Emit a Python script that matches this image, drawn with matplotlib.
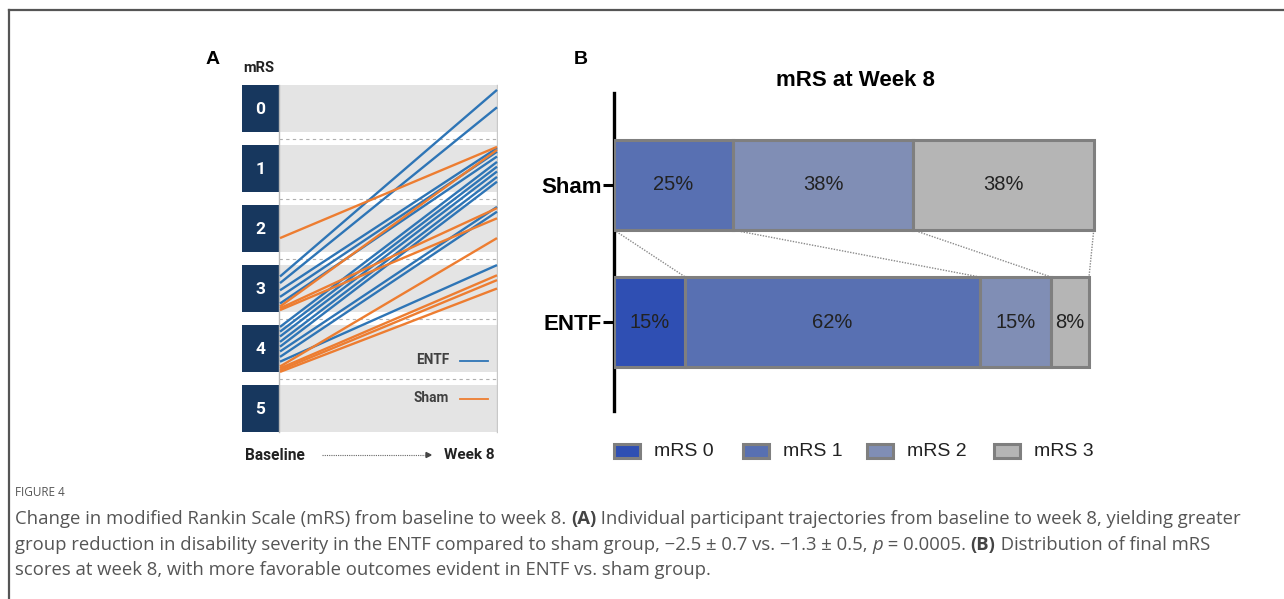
import matplotlib
matplotlib.use("Agg")
import matplotlib.pyplot as plt
from matplotlib.patches import Rectangle

# ---------------- data ----------------
mrs_levels = [0, 1, 2, 3, 4, 5]
entf_baseline = [2.80, 2.91, 3.03, 3.14, 3.25, 3.64, 3.72, 3.80, 3.89, 3.97, 4.05, 4.14, 4.22]
entf_week8 = [-0.31, -0.02, 0.66, 0.72, 0.80, 0.89, 0.97, 1.05, 1.14, 1.22, 1.64, 1.72, 2.61]
sham_baseline = [2.16, 3.30, 3.33, 3.36, 4.30, 4.33, 4.36, 4.39]
sham_week8 = [0.64, 0.69, 1.66, 1.83, 2.16, 2.78, 2.86, 3.00]

groups = ["ENTF", "Sham"]
categories = ["mRS 0", "mRS 1", "mRS 2", "mRS 3"]
sham_pct = [0, 25, 38, 38]
entf_pct = [15, 62, 15, 8]

# ---------------- figure ----------------
W, H = 1284, 599
fig = plt.figure(figsize=(W / 100, H / 100), dpi=100)
fig.patch.set_facecolor("white")


def px_axes(x0, y0, x1, y1):
    return fig.add_axes([x0 / W, 1 - y1 / H, (x1 - x0) / W, (y1 - y0) / H])


def fx(x):
    return x / W


def fy(y):
    return 1 - y / H


# frame lines
fig.add_artist(plt.Line2D([fx(9), fx(1284)], [fy(10), fy(10)], color="#555555", lw=1.6))
fig.add_artist(plt.Line2D([fx(9), fx(9)], [fy(10), fy(599)], color="#555555", lw=1.6))

# ---------------- panel A ----------------
BLUE = "#2e75b6"
ORANGE = "#ed7d31"
NAVY = "#17375e"
x0px, x1px = 280, 497
unit = x1px - x0px
axA = px_axes(242, 78.5, 498, 438.5)
axA.set_xlim((242 - x0px) / unit, (498 - x0px) / unit)
axA.set_ylim(5.5, -0.5)
axA.axis("off")
hh = 0.39
box_l = (242 - x0px) / unit
box_r = (279 - x0px) / unit
for k in mrs_levels:
    axA.add_patch(Rectangle((box_l, k - hh), box_r - box_l, 2 * hh, color=NAVY, lw=0, zorder=2))
    axA.add_patch(Rectangle((box_r, k - hh), 1.0 - box_r, 2 * hh, color="#e4e4e4", lw=0, zorder=1))
    axA.text((box_l + box_r) / 2, k + 0.02, str(k), color="white", fontsize=12.5, fontweight="bold",
             family="Roboto", ha="center", va="center", zorder=3)
for k in mrs_levels[:-1]:
    axA.plot([box_r, 1.0], [k + 0.5, k + 0.5], color="#b0b0b0", lw=0.8, ls=(0, (3, 3)), zorder=1)
axA.plot([box_r, box_r], [-hh, 5 + hh], color="#b8b8b8", lw=1.0, zorder=2)
axA.plot([1.0, 1.0], [-hh, 5 + hh], color="#c8c8c8", lw=1.0, zorder=2)

for b, w in zip(entf_baseline, entf_week8):
    axA.plot([0, 1], [b, w], color=BLUE, lw=1.7, zorder=4, solid_capstyle="butt")
for b, w in zip(sham_baseline, sham_week8):
    axA.plot([0, 1], [b, w], color=ORANGE, lw=1.7, zorder=4, solid_capstyle="butt")

# inner legend
lx_t = (449 - x0px) / unit
lx0, lx1 = (460 - x0px) / unit, (488 - x0px) / unit
for name, col, yy in [("ENTF", BLUE, 4.19), ("Sham", ORANGE, 4.82)]:
    axA.text(lx_t, yy, name, ha="right", va="center", fontsize=9.8, fontweight="bold",
             family="Roboto", color="#404040", zorder=5)
    axA.plot([lx0, lx1], [yy + 0.02, yy + 0.02], color=col, lw=1.3, zorder=5)

fig.text(fx(213), fy(59), "A", fontsize=14, fontweight="bold", family="Liberation Sans",
         ha="center", va="center")
fig.text(fx(259), fy(68), "mRS", fontsize=10.5, fontweight="bold", family="Roboto",
         ha="center", va="center", color="#222222")
fig.text(fx(245), fy(455), "Baseline", fontsize=11.2, fontweight="bold", family="Roboto",
         ha="left", va="center", color="#222222")
fig.text(fx(495), fy(455), "Week 8", fontsize=11.0, fontweight="bold", family="Roboto",
         ha="right", va="center", color="#222222")
fig.add_artist(plt.Line2D([fx(322), fx(426)], [fy(455), fy(455)], color="#666666", lw=0.8,
                          ls=(0, (1, 1))))
fig.add_artist(plt.Polygon([[fx(426), fy(452.5)], [fx(431), fy(455)], [fx(426), fy(457.5)]],
                           closed=True, color="#444444"))

# ---------------- panel B ----------------
seg_colors = ["#2f4fb3", "#5870b2", "#808eb5", "#b5b5b5"]
edge = "#7f7f7f"
px_per = 4.75
bx0 = 614
axB = px_axes(bx0, 93, 1100, 411)
axB.set_xlim(0, (1100 - bx0) / px_per)
yunit = 137.0
axB.set_ylim(-(411 - 322) / yunit, 1 + (185 - 93) / yunit)
bh = 90 / yunit
ypos = {"ENTF": 0, "Sham": 1}
data = {"ENTF": entf_pct, "Sham": sham_pct}
for g in groups:
    left = 0
    for c, v, col in zip(categories, data[g], seg_colors):
        if v > 0:
            axB.barh(ypos[g], v, left=left, height=bh, color=col, edgecolor=edge, linewidth=2.2,
                     zorder=3)
            axB.text(left + v / 2, ypos[g], f"{v}%", ha="center", va="center", fontsize=14.5,
                     family="Liberation Sans", color="#222222", zorder=4)
        left += v

# connector lines between cumulative boundaries
cs, ce = 0, 0
for vs, ve in zip(sham_pct, entf_pct):
    cs += vs
    ce += ve
    axB.plot([cs, ce], [1 - bh / 2, bh / 2], color="#8a8a8a", lw=1.0, ls=(0, (1, 1)), zorder=2)

for s in ["top", "right", "bottom"]:
    axB.spines[s].set_visible(False)
axB.spines["left"].set_linewidth(2.4)
axB.spines["left"].set_color("black")
axB.set_xticks([])
axB.set_yticks([ypos[g] for g in groups])
axB.set_yticklabels(groups, fontsize=16, fontweight="bold", family="Liberation Sans")
axB.tick_params(axis="y", length=8, width=2.2, pad=1)
axB.set_facecolor("none")

fig.text(fx(581), fy(59), "B", fontsize=14, fontweight="bold", family="Liberation Sans",
         ha="center", va="center")
fig.text(fx(855), fy(80), "mRS at Week 8", fontsize=16, fontweight="bold",
         family="Liberation Sans", ha="center", va="center")

# bottom legend
leg_x = [613, 742, 866, 993]
for xp, c, col in zip(leg_x, categories, seg_colors):
    fig.add_artist(Rectangle((fx(xp + 1), fy(458)), 26 / W, 14 / H, facecolor=col, edgecolor=edge,
                             linewidth=2.2))
    fig.text(fx(xp + 41), fy(451), c, fontsize=14, family="Liberation Sans", ha="left",
             va="center", color="#222222")

# ---------------- caption ----------------
renderer = fig.canvas.get_renderer()
CAP = dict(fontsize=13.3, family="Open Sans", color="#555555")


def measure(s, kw):
    t1 = fig.text(0, 0, "|" + s + "|", **kw)
    t2 = fig.text(0, 0, "||", **kw)
    w = t1.get_window_extent(renderer).width - t2.get_window_extent(renderer).width
    t1.remove()
    t2.remove()
    return w


def runs_text(xp, yp, runs):
    x = xp
    for s, extra in runs:
        kw = dict(CAP)
        kw.update(extra)
        fig.text(fx(x), fy(yp), s, ha="left", va="center", **kw)
        x += measure(s, kw)


fig.text(fx(15), fy(493), "FIGURE 4", fontsize=8.5, family="Open Sans", color="#555555",
         ha="left", va="center")
B = {"fontweight": "bold", "color": "#444444"}
runs_text(15, 519, [("Change in modified Rankin Scale (mRS) from baseline to week 8. ", {}),
                    ("(A)", B),
                    (" Individual participant trajectories from baseline to week 8, yielding greater", {})])
runs_text(15, 545, [("group reduction in disability severity in the ENTF compared to sham group, "
                     "\u22122.5 \u00b1 0.7 vs. \u22121.3 \u00b1 0.5, ", {}),
                    ("p", {"style": "italic"}),
                    (" = 0.0005. ", {}),
                    ("(B)", B),
                    (" Distribution of final mRS", {})])
runs_text(15, 570, [("scores at week 8, with more favorable outcomes evident in ENTF vs. sham group.", {})])

fig.savefig("out.png", dpi=100, facecolor="white")
